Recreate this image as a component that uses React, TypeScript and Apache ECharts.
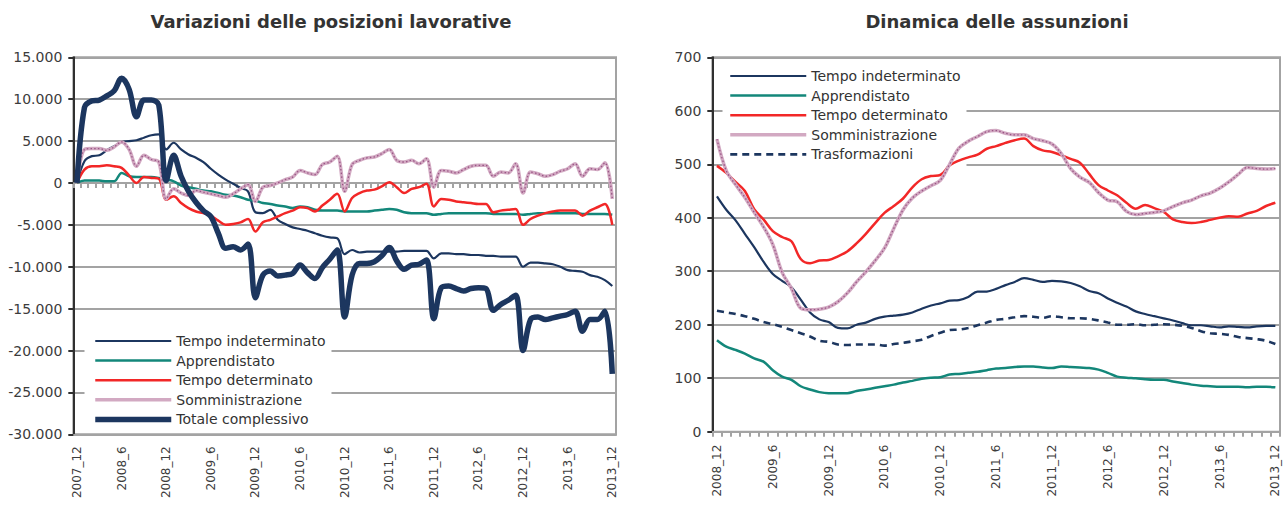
import React, { useEffect, useRef } from 'react';
import * as echarts from 'echarts';

// ---------- categories ----------
function monthLabels(startYear: number, startMonth: number, count: number): string[] {
  const out: string[] = [];
  let y = startYear;
  let m = startMonth;
  for (let k = 0; k < count; k++) {
    out.push(`${y}_${m}`);
    m += 1;
    if (m > 12) { m = 1; y += 1; }
  }
  return out;
}
const leftCategories = monthLabels(2007, 12, 73); // 2007_12 .. 2013_12
const rightCategories = monthLabels(2008, 12, 61); // 2008_12 .. 2013_12

// ---------- left chart: Variazioni delle posizioni lavorative ----------
const leftTempoIndeterminato = [
  0, 2600, 3200, 3300, 3900, 4400, 4900, 5000, 5100, 5400, 5700, 5800,
  4000, 4800, 4000, 3400, 3000, 2500, 1700, 1000, 400, -100, -600, -1000,
  -3500, -3600, -3200, -4400, -4900, -5300, -5500, -5700, -6000, -6300, -6500, -6600,
  -8500, -8000, -8300, -8200, -8200, -8200, -8200, -8200, -8100, -8100, -8100, -8100,
  -9000, -8400, -8400, -8500, -8500, -8600, -8600, -8700, -8700, -8800, -8800, -8800,
  -10000, -9500, -9500, -9600, -9700, -10000, -10400, -10500, -10600, -11000, -11200, -11600,
  -12300,
];
const leftApprendistato = [
  0, 300, 300, 280, 200, 200, 1200, 800, 700, 700, 700, 600,
  400, 200, -300, -500, -700, -900, -1000, -1200, -1400, -1500, -1700, -2000,
  -2100, -2400, -2500, -2700, -2800, -3000, -2800, -2900, -3200, -3300, -3300, -3300,
  -3400, -3400, -3400, -3400, -3300, -3200, -3100, -3200, -3500, -3600, -3600, -3600,
  -3800, -3700, -3600, -3600, -3600, -3600, -3600, -3600, -3700, -3700, -3700, -3700,
  -3800, -3700, -3600, -3600, -3600, -3600, -3600, -3600, -3700, -3700, -3700, -3700,
  -3800,
];
const leftTempoDeterminato = [
  0, 1600, 2000, 2000, 2100, 2000, 1800, 900, 0, 700, 600, 500,
  -2000, -1600, -2400, -3000, -3400, -3600, -3900, -4500, -5000, -4900, -4700, -4300,
  -5800, -4700, -4400, -4000, -3600, -3300, -2900, -3000, -3400, -2700, -2000, -1300,
  -3400, -1800, -1200, -900, -800, -400, 100, -500, -1200, -700, -500, -100,
  -2800, -1900, -2000, -2200, -2300, -2400, -2500, -2500, -3500, -3300, -3200, -3100,
  -5000, -4300, -3900, -3600, -3400, -3300, -3300, -3300, -3900, -3300, -2900, -2500,
  -5000,
];
const leftSomministrazione = [
  0, 4000, 4100, 4100, 3900, 4300, 4900, 4000, 2000, 3300, 2800, 2500,
  -1900, -700, -1200, -1500, -900, -1100, -1300, -1500, -1700, -1300, -700, -200,
  -2200, -500, -300, 0, 400, 700, 1500, 1200, 1000, 2200, 2500, 3200,
  -1000, 2200, 2700, 3000, 3100, 3500, 4000, 2700, 2500, 2700, 2300, 2900,
  -500, 1500, 1400, 1200, 1600, 2000, 2100, 2100, 800, 1300, 1200, 2300,
  -1200, 1300, 1100, 800, 1000, 1400, 1700, 2300, 800, 1700, 1600, 2400,
  -1900,
];
const leftTotaleComplessivo = [
  0, 9000, 9800, 9900, 10400, 11000, 12500, 11200, 7900, 9900, 9900, 9300,
  300, 3300, 800, -1000, -2300, -3300, -4000, -6000, -7800, -7600, -8000, -7300,
  -13700, -11000, -10500, -11100, -11000, -10800, -9800, -10700, -11400, -10100, -9100, -8000,
  -16000, -11000, -9600, -9600, -9400, -8700, -7700, -9300, -10300, -9800, -9700, -9200,
  -16200, -12500, -12300, -12600, -12900, -12600, -12500, -12600, -15200, -14500, -14000, -13400,
  -20000, -16300, -16000, -16300, -16100, -15900, -15700, -15300, -17700, -16300, -16300, -15300,
  -22800,
];

// ---------- right chart: Dinamica delle assunzioni ----------
const rightTempoIndeterminato = [
  440, 415, 395, 370, 345, 318, 295, 282, 270, 247, 223, 210,
  205, 194, 193, 200, 204, 211, 215, 217, 219, 223, 230, 236,
  240, 245, 246, 252, 262, 262, 267, 274, 280, 287, 284, 280,
  282, 281, 278, 272, 263, 259, 249, 241, 234, 225, 220, 216,
  212, 208, 203, 199, 199, 197, 195, 197, 196, 195, 197, 198,
  198,
];
const rightApprendistato = [
  171, 159, 153, 146, 137, 131, 115, 103, 97, 85, 79, 74,
  72, 72, 72, 76, 79, 82, 85, 88, 92, 95, 99, 101,
  102, 107, 108, 110, 112, 115, 118, 119, 121, 122, 122, 120,
  119, 122, 121, 120, 119, 116, 110, 103, 101, 100, 98, 97,
  97, 94, 91, 88, 86, 85, 84, 84, 84, 83, 84, 84,
  83,
];
const rightTempoDeterminato = [
  497, 484, 467, 450, 416, 397, 375, 364, 356, 323, 315, 320,
  321, 328, 337, 352, 370, 390, 409, 422, 436, 457, 472, 478,
  480, 498, 507, 513, 518, 529, 534, 540, 545, 548, 534, 526,
  523, 517, 510, 503, 482, 461, 451, 442, 428, 417, 424, 418,
  411, 397, 392, 390, 392, 396, 400, 403, 402, 408, 413, 422,
  428,
];
const rightSomministrazione = [
  547, 488, 462, 438, 410, 383, 350, 298, 268, 231, 228, 229,
  233, 243, 259, 280, 299, 320, 343, 380, 415, 437, 450, 460,
  470, 500, 530, 543, 552, 561, 563, 558, 555, 555, 548, 544,
  538, 520, 492, 476, 466, 447, 433, 430, 412, 406, 408, 410,
  413, 421, 428, 433, 441, 446, 455, 467, 481, 494, 492, 491,
  492,
];
const rightTrasformazioni = [
  226, 223, 220, 216, 211, 205, 201, 196, 190, 184, 178, 170,
  168, 163, 162, 163, 163, 163, 161, 164, 166, 169, 172, 179,
  185, 190, 191, 194, 199, 204, 209, 211, 214, 216, 215, 213,
  216, 214, 212, 212, 211, 208, 204, 200, 200, 201, 199, 200,
  201, 200, 198, 194, 188, 184, 183, 181, 177, 175, 173, 170,
  164,
];

const leftLegendNames = ['Tempo indeterminato', 'Apprendistato', 'Tempo determinato', 'Somministrazione', 'Totale complessivo'];
const rightLegendNames = ['Tempo indeterminato', 'Apprendistato', 'Tempo determinato', 'Somministrazione', 'Trasformazioni'];
const leftTicks = { min: -30000, max: 15000, interval: 5000 };
const rightTicks = { min: 0, max: 700, interval: 100 };

// ---------- styles ----------
const FONT = 'DejaVu Sans';
const GRID_COLOR = '#a3a3a3';
const AXIS_DARK = '#303030';
const LABEL_COLOR = '#3c3c3c';
const NAVY = '#1c365f';
const TEAL = '#13877a';
const RED = '#f22727';
const PINK_BASE = '#d2a9c2';
const PINK_DOTS = '#9a5686';
const SMOOTH = 0.35;

function thousands(v: number): string {
  const s = Math.abs(v).toString().replace(/\B(?=(\d{3})+(?!\d))/g, '.');
  return (v < 0 ? '-' : '') + s;
}

function lineSeries(name: string, data: number[], grid: number, color: string, width: number, extra: any = {}) {
  return {
    type: 'line',
    name,
    data,
    xAxisIndex: grid === 0 ? 0 : 2,
    yAxisIndex: grid,
    symbol: 'none',
    showSymbol: false,
    smooth: SMOOTH,
    lineStyle: { color, width, ...(extra.lineStyle || {}) },
    itemStyle: { color },
    emphasis: { disabled: true },
    z: extra.z ?? 2,
  };
}

function buildOption(): any {
  const yLabel = { fontSize: 14, color: LABEL_COLOR, margin: 11, fontFamily: FONT };
  const xLabel = { interval: 5, rotate: 90, fontSize: 12, color: LABEL_COLOR, fontFamily: FONT };
  const legendCommon = {
    orient: 'vertical',
    itemWidth: 76,
    itemHeight: 14,
    itemGap: 5.6,
    backgroundColor: '#ffffff',
    textStyle: { fontSize: 14, color: '#333333', fontFamily: FONT, lineHeight: 14 },
    lineStyle: { width: 'inherit' },
    itemStyle: { opacity: 0 },
    selectedMode: false,
    z: 1,
  };
  return {
    animation: false,
    textStyle: { fontFamily: FONT },
    graphic: [
      {
        type: 'text', x: 331, y: 21,
        style: { text: 'Variazioni delle posizioni lavorative', fontSize: 18, fontWeight: 'bold', fontFamily: FONT, fill: '#333333', align: 'center', verticalAlign: 'middle' },
      },
      {
        type: 'text', x: 997, y: 21,
        style: { text: 'Dinamica delle assunzioni', fontSize: 18, fontWeight: 'bold', fontFamily: FONT, fill: '#333333', align: 'center', verticalAlign: 'middle' },
      },
    ],
    grid: [
      { left: 73.3, top: 57.3, width: 542.7, height: 377, show: true, borderColor: GRID_COLOR, borderWidth: 2, backgroundColor: 'transparent' },
      { left: 712.3, top: 57.3, width: 567.7, height: 374.4, show: true, borderColor: GRID_COLOR, borderWidth: 2, backgroundColor: 'transparent' },
    ],
    xAxis: [
      {
        gridIndex: 0, type: 'category', data: leftCategories, boundaryGap: true, position: 'bottom',
        axisLine: { onZero: false, lineStyle: { color: GRID_COLOR, width: 2 } },
        axisTick: { show: false },
        axisLabel: { ...xLabel, margin: 12 },
        splitLine: { show: false },
      },
      {
        gridIndex: 0, type: 'category', data: leftCategories, boundaryGap: true, position: 'bottom',
        axisLine: { onZero: true, lineStyle: { color: GRID_COLOR, width: 2 } },
        axisTick: { show: true, interval: 0, length: 5, lineStyle: { color: GRID_COLOR, width: 2 } },
        axisLabel: { show: false },
        splitLine: { show: false },
      },
      {
        gridIndex: 1, type: 'category', data: rightCategories, boundaryGap: true, position: 'bottom',
        axisLine: { onZero: false, lineStyle: { color: GRID_COLOR, width: 2 } },
        axisTick: { show: true, interval: 0, length: 5, lineStyle: { color: GRID_COLOR, width: 2 } },
        axisLabel: { ...xLabel, margin: 13 },
        splitLine: { show: false },
      },
    ],
    yAxis: [
      {
        gridIndex: 0, type: 'value', ...leftTicks,
        axisLine: { show: true, lineStyle: { color: AXIS_DARK, width: 2 } },
        axisTick: { show: true, length: 5, lineStyle: { color: AXIS_DARK, width: 2 } },
        axisLabel: { ...yLabel, formatter: (v: number) => thousands(v) },
        splitLine: { show: true, lineStyle: { color: GRID_COLOR, width: 2 } },
      },
      {
        gridIndex: 1, type: 'value', ...rightTicks,
        axisLine: { show: true, lineStyle: { color: AXIS_DARK, width: 2 } },
        axisTick: { show: true, length: 5, lineStyle: { color: AXIS_DARK, width: 2 } },
        axisLabel: { ...yLabel },
        splitLine: { show: true, lineStyle: { color: GRID_COLOR, width: 2 } },
      },
    ],
    legend: [
      { ...legendCommon, data: leftLegendNames, left: 84.5, top: 330, padding: [4, 6, 4, 8] },
      { ...legendCommon, data: rightLegendNames, left: 722.5, top: 65, padding: [4, 6, 6, 6] },
    ],
    series: [
      lineSeries('Tempo indeterminato', leftTempoIndeterminato, 0, NAVY, 2.2),
      lineSeries('Apprendistato', leftApprendistato, 0, TEAL, 2.5),
      lineSeries('Tempo determinato', leftTempoDeterminato, 0, RED, 2.5),
      lineSeries('Somministrazione', leftSomministrazione, 0, PINK_BASE, 3.5),
      lineSeries('Somministrazione', leftSomministrazione, 0, PINK_DOTS, 1.3, { lineStyle: { type: [1.5, 2.2] }, z: 3 }),
      lineSeries('Totale complessivo', leftTotaleComplessivo, 0, NAVY, 5.5, { z: 4 }),

      lineSeries('Tempo indeterminato', rightTempoIndeterminato, 1, NAVY, 2.2),
      lineSeries('Apprendistato', rightApprendistato, 1, TEAL, 2.5),
      lineSeries('Tempo determinato', rightTempoDeterminato, 1, RED, 2.5),
      lineSeries('Somministrazione', rightSomministrazione, 1, PINK_BASE, 3.5),
      lineSeries('Somministrazione', rightSomministrazione, 1, PINK_DOTS, 1.3, { lineStyle: { type: [1.5, 2.2] }, z: 3 }),
      lineSeries('Trasformazioni', rightTrasformazioni, 1, NAVY, 2.6, { lineStyle: { type: [7, 5] }, z: 4 }),
    ],
  };
}

export default function App() {
  const ref = useRef<HTMLDivElement>(null);
  useEffect(() => {
    if (!ref.current) return;
    const chart = echarts.init(ref.current, undefined, { renderer: 'svg' });
    chart.setOption(buildOption());
    return () => chart.dispose();
  }, []);
  return (
    <div
      ref={ref}
      style={{ position: 'fixed', left: 0, top: 0, width: 1283, height: 507, background: '#ffffff' }}
    />
  );
}
